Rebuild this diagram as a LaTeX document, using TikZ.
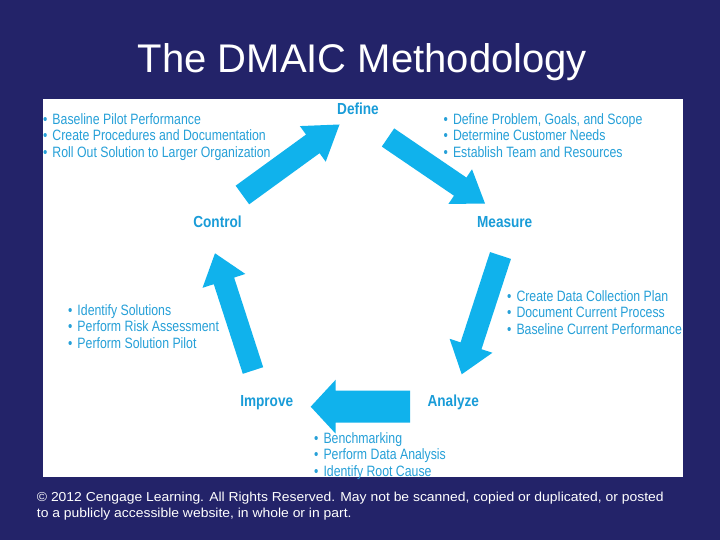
\documentclass[tikz,border=0pt]{standalone}
\usepackage{fontspec}
\setmainfont{Liberation Sans}
\newfontfamily\listfont[FakeStretch=0.82]{Liberation Sans}
\newfontfamily\labfont[FakeStretch=0.85]{Liberation Sans}
\newfontfamily\footfont[FakeStretch=1.07]{Liberation Sans}
\usetikzlibrary{calc}
\definecolor{navy}{RGB}{35,35,105}
\definecolor{arrowc}{RGB}{16,178,236}
\definecolor{labc}{RGB}{25,156,216}
\definecolor{listc}{RGB}{38,160,216}
\newcommand{\blt}{\textbullet\hspace{5pt}}
\newcommand{\fatarrow}[5]{%
  \coordinate (fa-n) at ($(#2)!#5!(#1)$);
  \fill[arrowc] ($(#1)!#3!90:(#2)$) -- ($(fa-n)!#3!90:(#2)$) -- ($(fa-n)!#4!90:(#2)$) -- (#2)
    -- ($(fa-n)!#4!-90:(#2)$) -- ($(fa-n)!#3!-90:(#2)$) -- ($(#1)!#3!-90:(#2)$) -- cycle;}
\tikzset{
  lab/.style={anchor=base, inner sep=0pt, text=labc, font=\labfont\bfseries\fontsize{16}{19}\selectfont},
  blist/.style={anchor=base west, inner sep=0pt, align=left, text=listc, font=\listfont\fontsize{15}{16.5}\selectfont},
}
\begin{document}
\begin{tikzpicture}[x=1pt,y=-1pt]
\useasboundingbox (0,0) rectangle (720,540);
\fill[navy] (0,0) rectangle (720,540);
\fill[white] (42.5,99) rectangle (683,477.3);
\node[anchor=base, inner sep=0pt, text=white, font=\fontsize{40}{48}\selectfont] (title) at (362.5,73) {The DMAIC Methodology};
% stage labels
\node[lab] (define) at (358,114.3) {Define};
\node[lab] (measure) at (504.7,227.7) {Measure};
\node[lab] (analyze) at (453.3,406) {Analyze};
\node[lab] (improve) at (266.7,406) {Improve};
\node[lab] (control) at (217.5,227.3) {Control};
% bullet lists (anchored at the baseline of their last line)
\node[blist] (ldefine) at (443.5,157.3) {\blt Define Problem, Goals, and Scope\\\blt Determine Customer Needs\\\blt Establish Team and Resources};
\node[blist] (lmeasure) at (507,334) {\blt Create Data Collection Plan\\\blt Document Current Process\\\blt Baseline Current Performance};
\node[blist] (lanalyze) at (314,476.3) {\blt Benchmarking\\\blt Perform Data Analysis\\\blt Identify Root Cause};
\node[blist] (limprove) at (68,348) {\blt Identify Solutions\\\blt Perform Risk Assessment\\\blt Perform Solution Pilot};
\node[blist] (lcontrol) at (43,157.3) {\blt Baseline Pilot Performance\\\blt Create Procedures and Documentation\\\blt Roll Out Solution to Larger Organization};
% arrows
\coordinate (t1) at (242.4,195);   \coordinate (p1) at (339.5,124.5);
\coordinate (t2) at (388,137.5);   \coordinate (p2) at (485,203.5);
\coordinate (t3) at (500.5,255.5); \coordinate (p3) at (461.7,374.3);
\coordinate (t4) at (410,406.7);   \coordinate (p4) at (310.7,406.7);
\coordinate (t5) at (253,370.5);   \coordinate (p5) at (215,253.3);
\fatarrow{t1}{p1}{11.5pt}{22pt}{33pt}
\fatarrow{t2}{p2}{11pt}{21pt}{30pt}
\fatarrow{t3}{p3}{11pt}{22.5pt}{30pt}
\fatarrow{t4}{p4}{16pt}{27pt}{25pt}
\fatarrow{t5}{p5}{10.7pt}{22.5pt}{29pt}
% footer
\node[anchor=base west, inner sep=0pt, align=left, text=white, font=\footfont\fontsize{13}{15.6}\selectfont] (footer) at (36.7,517.3) {\textcopyright\ 2012 Cengage Learning. All Rights Reserved. May not be scanned, copied or duplicated, or posted\\to a publicly accessible website, in whole or in part.};
\end{tikzpicture}
\end{document}
